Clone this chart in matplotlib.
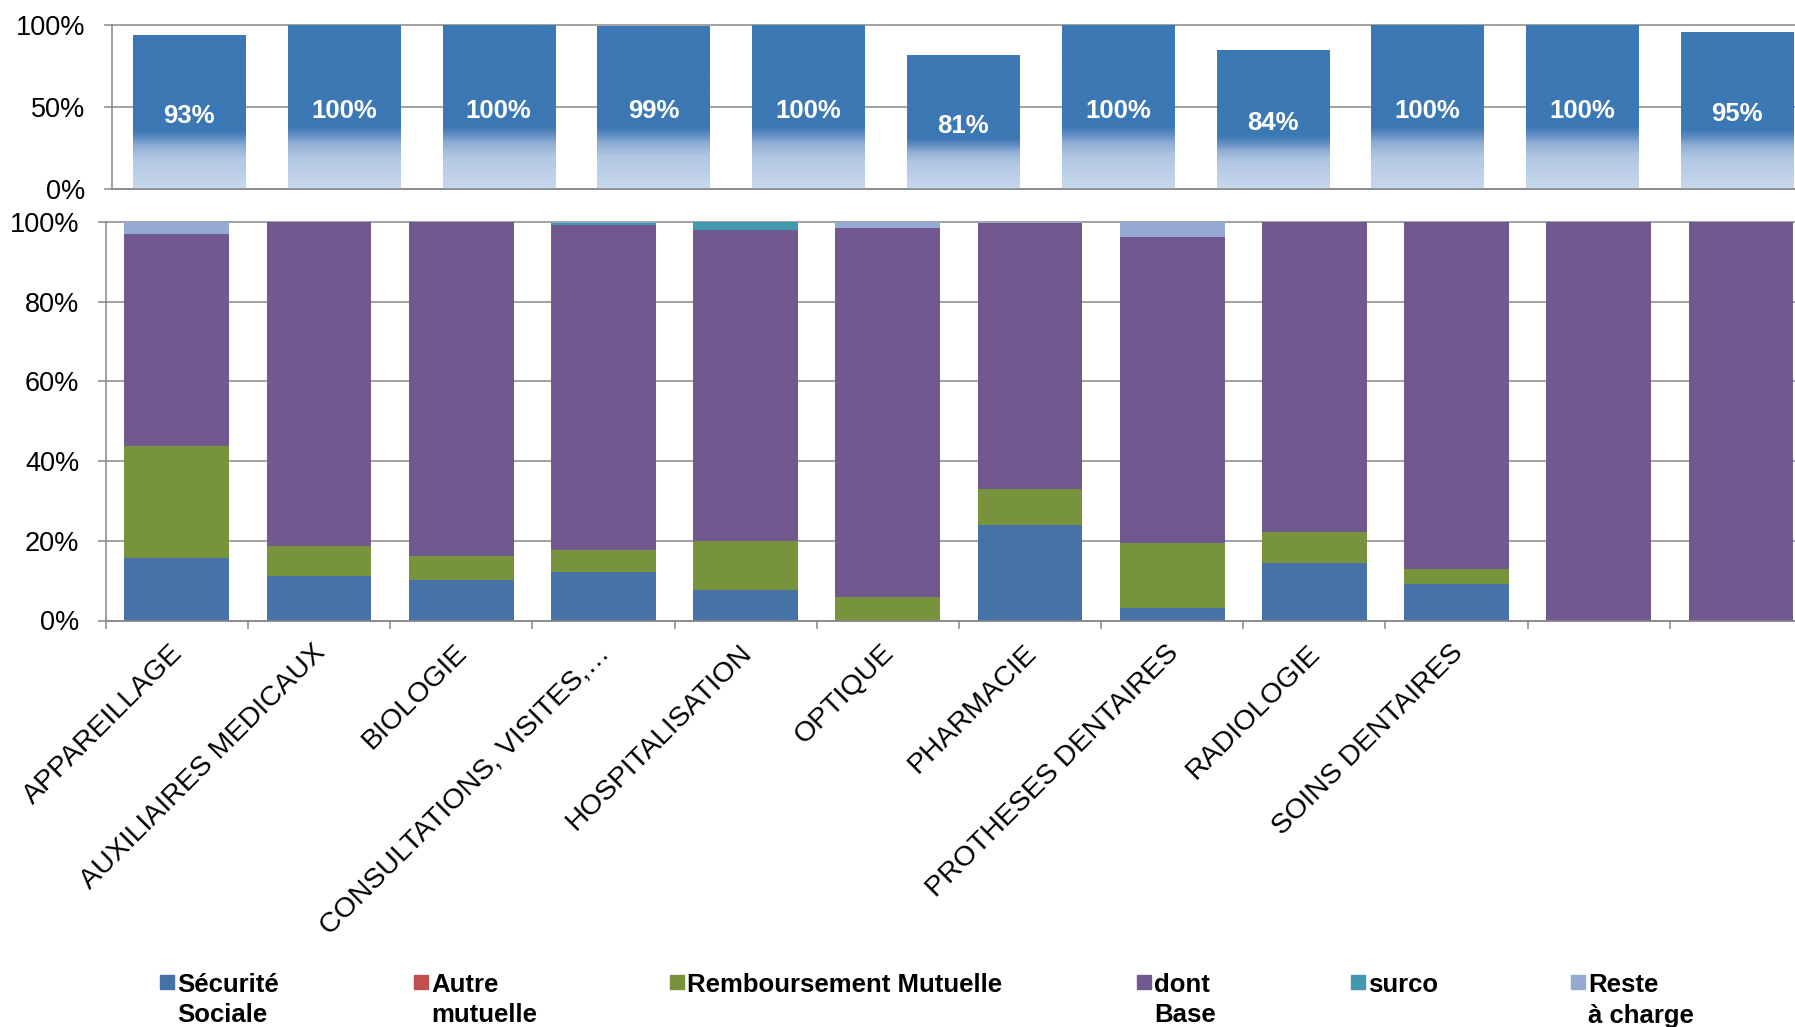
import numpy as np
import matplotlib.pyplot as plt
from matplotlib.colors import LinearSegmentedColormap
from matplotlib.patches import Rectangle
from matplotlib.transforms import ScaledTranslation

plt.rcParams['font.family'] = ['Liberation Sans', 'DejaVu Sans']

# données
categories = ["APPAREILLAGE", "AUXILIAIRES MEDICAUX", "BIOLOGIE",
              "CONSULTATIONS, VISITES,…", "HOSPITALISATION", "OPTIQUE",
              "PHARMACIE", "PROTHESES DENTAIRES", "RADIOLOGIE",
              "SOINS DENTAIRES", "", ""]

taux = [93.4, 100, 100, 98.8, 100, 81.4, 100, 84.2, 100, 100, 95.4]

secu = [15.8, 11.2, 10.2, 12.2, 7.6, 0, 23.9, 3.1, 14.4, 9.1, 0, 0]
autre = [0, 0, 0, 0, 0, 0, 0, 0, 0, 0, 0, 0]
remb = [28.0, 7.6, 6.1, 5.4, 12.3, 5.8, 9.2, 16.4, 7.8, 3.9, 0, 0]
base = [53.1, 81.2, 83.7, 81.6, 78.1, 92.8, 66.6, 76.7, 77.8, 87.0, 100, 100]
surco = [0, 0, 0, 0.6, 2.0, 0, 0, 0, 0, 0, 0, 0]
reste = [3.1, 0, 0, 0.2, 0, 1.4, 0.3, 3.8, 0, 0, 0, 0]

noms = ["Sécurité\nSociale", "Autre\nmutuelle", "Remboursement Mutuelle",
        "dont\nBase", "surco", "Reste\nà charge"]
couleurs = ["#4672A8", "#C0504D", "#77933C", "#71588F", "#4198AF", "#94AAD2"]

W, H = 1795, 1027
GRIS = "#878787"


def px(x0, y0, x1, y1):
    return [x0 / W, 1 - y1 / H, (x1 - x0) / W, (y1 - y0) / H]


def style(ax):
    ax.yaxis.grid(True, color=GRIS, lw=1.1)
    ax.set_axisbelow(True)
    for s in ["top", "right"]:
        ax.spines[s].set_visible(False)
    for s in ["left", "bottom"]:
        ax.spines[s].set_color(GRIS)
        ax.spines[s].set_linewidth(1.1)
    ax.tick_params(axis='y', length=6.1, width=1.1, color=GRIS, pad=13,
                   labelsize=19.5)
    for gl in ax.get_ygridlines():
        gl.set_clip_on(False)


fig = plt.figure(figsize=(W / 100, H / 100), dpi=100)

# --- panneau du haut
ax1 = fig.add_axes(px(111.7, 25, 111.7 + 11 * 154.8, 189))
x1 = np.arange(len(taux))
bars = ax1.bar(x1, taux, width=0.724, color='none', zorder=2)
cmap = LinearSegmentedColormap.from_list(
    "deg", [(0, "#C8D8EC"), (0.2, "#B0C6E2"), (0.28, "#8EADD5"),
            (0.33, "#5F8DC3"), (0.38, "#3C78B4"), (1, "#3C78B4")])
grad = np.linspace(0, 1, 256).reshape(-1, 1)
bas_txt = ScaledTranslation(0, -0.035, fig.dpi_scale_trans)
for b, v in zip(bars, taux):
    ax1.imshow(grad, extent=[b.get_x(), b.get_x() + b.get_width(), 0, v],
               origin='lower', aspect='auto', cmap=cmap, zorder=2)
    ax1.text(b.get_x() + b.get_width() / 2, v / 2, f"{v:.0f}%",
             ha='center', va='center', color='white', fontsize=18.5,
             fontweight='bold', zorder=3,
             transform=ax1.transData + bas_txt)
ax1.set_xlim(-0.5, len(taux) - 0.5)
ax1.set_ylim(0, 100)
ax1.set_yticks([0, 50, 100])
ax1.set_yticklabels(["0%", "50%", "100%"])
ax1.set_xticks([])
style(ax1)

# --- panneau du bas
ax2 = fig.add_axes(px(105.7, 222, 105.7 + 12 * 142.2, 620.5))
x2 = np.arange(len(categories))
bas = np.zeros(len(categories))
for vals, c in zip([secu, autre, remb, base, surco, reste], couleurs):
    ax2.bar(x2, vals, bottom=bas, width=0.738, color=c, zorder=2)
    bas = bas + np.array(vals)
ax2.set_xlim(-0.5, len(categories) - 0.5)
ax2.set_ylim(0, 100)
ax2.set_yticks(range(0, 101, 20))
ax2.set_yticklabels([f"{v}%" for v in range(0, 101, 20)])
style(ax2)
ax2.set_xticks(x2)
ax2.set_xticklabels(categories, rotation=45, ha='right', va='top',
                    rotation_mode='anchor', fontsize=20.5)
ax2.set_xticks(np.arange(-0.5, len(categories)), minor=True)
ax2.tick_params(axis='x', which='major', length=0, pad=14)
ax2.tick_params(axis='x', which='minor', length=6, width=1.1, color=GRIS)
decal = ScaledTranslation(-0.07, 0, fig.dpi_scale_trans)
for lab in ax2.get_xticklabels():
    lab.set_transform(lab.get_transform() + decal)

# --- légende
pos_leg = [160, 414, 670, 1137, 1351, 1571]
for xl, nom, c in zip(pos_leg, noms, couleurs):
    fig.add_artist(Rectangle((xl / W, 1 - 989 / H), 14 / W, 14 / H,
                             transform=fig.transFigure, color=c))
    for k, ligne in enumerate(nom.split("\n")):
        fig.text((xl + 17) / W, 1 - (992.5 + 30 * k) / H, ligne,
                 fontsize=18.5, fontweight='bold', va='baseline')

fig.savefig("out.png", dpi=100)
